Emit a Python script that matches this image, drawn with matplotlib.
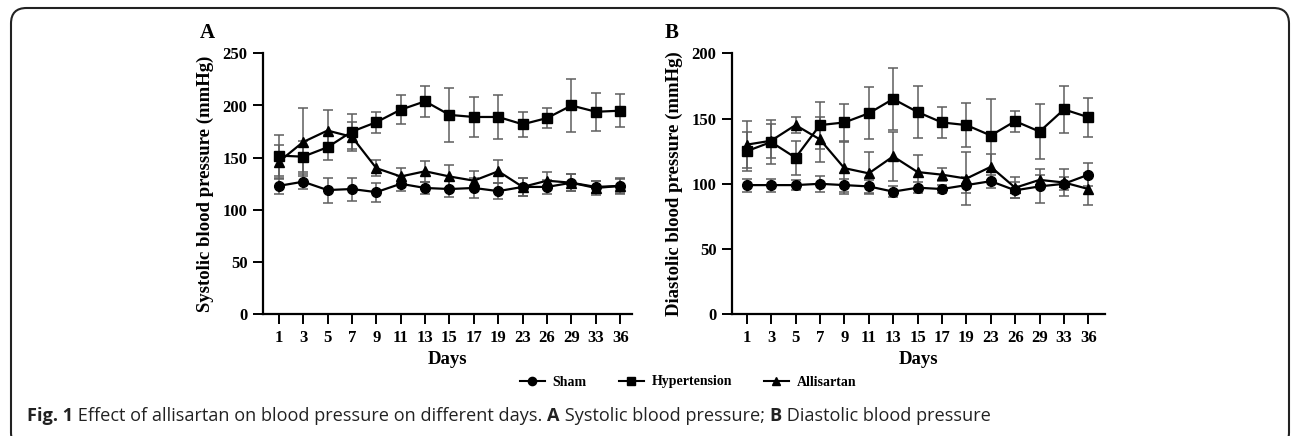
import matplotlib
matplotlib.use("Agg")
import matplotlib.pyplot as plt
from matplotlib.patches import FancyBboxPatch
from matplotlib.lines import Line2D
import numpy as np

days = ["1", "3", "5", "7", "9", "11", "13", "15", "17", "19", "23", "26", "29", "33", "36"]

# Panel A: systolic blood pressure (mmHg)
sbp_sham = [123, 127, 119, 120, 117, 125, 121, 120, 121, 118, 122, 122, 126, 122, 123]
sbp_sham_err = [8, 7, 12, 11, 9, 7, 6, 8, 10, 8, 9, 7, 8, 6, 7]
sbp_hyp = [152, 151, 160, 175, 184, 196, 204, 191, 189, 189, 182, 188, 200, 194, 195]
sbp_hyp_err = [20, 15, 12, 17, 10, 14, 15, 26, 19, 21, 12, 10, 25, 18, 16]
sbp_all = [146, 165, 176, 170, 140, 132, 137, 132, 128, 137, 122, 128, 126, 121, 123]
sbp_all_err = [16, 33, 20, 14, 8, 8, 10, 11, 9, 11, 9, 8, 8, 7, 8]

# Panel B: diastolic blood pressure (mmHg)
dbp_sham = [99, 99, 99, 100, 99, 98, 94, 97, 96, 99, 102, 95, 98, 100, 107]
dbp_sham_err = [5, 5, 4, 6, 5, 5, 4, 4, 3, 6, 5, 6, 13, 5, 9]
dbp_hyp = [125, 132, 120, 145, 147, 154, 165, 155, 147, 145, 137, 148, 140, 157, 151]
dbp_hyp_err = [15, 17, 13, 18, 14, 20, 24, 20, 12, 17, 28, 8, 21, 18, 15]
dbp_all = [130, 133, 145, 134, 112, 108, 121, 109, 107, 104, 113, 97, 103, 101, 96]
dbp_all_err = [18, 13, 6, 17, 20, 16, 19, 13, 5, 20, 10, 8, 4, 10, 12]

W, H = 1292, 436
fig = plt.figure(figsize=(W / 100, H / 100), dpi=100)

serif = "Liberation Serif"

def px_axes(x0, y0, x1, y1):
    return fig.add_axes([x0 / W, 1 - y1 / H, (x1 - x0) / W, (y1 - y0) / H])

series_style = [
    ("Sham", "o", 7.0),
    ("Hypertension", "s", 6.8),
    ("Allisartan", "^", 6.5),
]

def draw_panel(ax, data, ymax, ylabel, letter, xlim, letter_px):
    x = np.arange(len(days))
    for (name, mk, ms), (vals, errs) in zip(series_style, data):
        ax.errorbar(x, vals, yerr=errs, fmt="none", ecolor="#5e5e5e",
                    elinewidth=1.1, capsize=3.6, capthick=1.1, zorder=2)
        ax.plot(x, vals, color="black", lw=1.6, marker=mk, ms=ms,
                mfc="black", mec="black", zorder=3, label=name)
    ax.set_xlim(*xlim)
    ax.set_ylim(0, ymax)
    ax.set_yticks(np.arange(0, ymax + 1, 50))
    ax.set_xticks(x)
    ax.set_xticklabels(days)
    for s in ["top", "right"]:
        ax.spines[s].set_visible(False)
    for s in ["left", "bottom"]:
        ax.spines[s].set_linewidth(1.6)
    ax.tick_params(axis="both", width=1.4, length=7, direction="out", pad=4)
    for lab in ax.get_xticklabels() + ax.get_yticklabels():
        lab.set_fontfamily(serif)
        lab.set_fontweight("bold")
        lab.set_fontsize(12)
    ax.set_ylabel(ylabel, fontfamily=serif, fontweight="bold", fontsize=13.5, labelpad=6)
    ax.set_xlabel("Days", fontfamily=serif, fontweight="bold", fontsize=13.5, labelpad=4)
    fig.text(letter_px[0] / W, 1 - letter_px[1] / H, letter, fontfamily=serif,
             fontweight="bold", fontsize=15, ha="center", va="center")

axA = px_axes(262.7, 53.3, 632, 314.3)
draw_panel(axA, [(sbp_sham, sbp_sham_err), (sbp_hyp, sbp_hyp_err), (sbp_all, sbp_all_err)],
           250, "Systolic blood pressure (mmHg)", "A", (-0.656, 14.48), (207, 33))
axB = px_axes(731.7, 53.3, 1105, 314.3)
draw_panel(axB, [(dbp_sham, dbp_sham_err), (dbp_hyp, dbp_hyp_err), (dbp_all, dbp_all_err)],
           200, "Diastolic blood pressure (mmHg)", "B", (-0.615, 14.68), (672, 33))

handles = [Line2D([0], [0], color="black", lw=1.5, marker=mk, ms=ms * 0.85, mfc="black")
           for (_, mk, ms) in series_style]
labels = [n for (n, _, _) in series_style]
fig.legend(handles, labels, loc="center", bbox_to_anchor=(688 / W, 1 - 382 / H), ncol=3,
           frameon=False, handlelength=1.8, handletextpad=0.55, columnspacing=2.3,
           prop={"family": serif, "weight": "bold", "size": 10})

# frame
box = FancyBboxPatch((11 / W, -12 / H), (1289 - 11) / W, (H - 8 + 12) / H,
                     boxstyle="round,pad=0,rounding_size=0.012", transform=fig.transFigure,
                     fill=False, ec="#222222", lw=1.5, mutation_aspect=W / H)
fig.patches.append(box)

# caption
cap_parts = [("Fig. 1", "bold"), (" Effect of allisartan on blood pressure on different days. ", "normal"),
             ("A", "bold"), (" Systolic blood pressure; ", "normal"),
             ("B", "bold"), (" Diastolic blood pressure", "normal")]
fig.canvas.draw()
r = fig.canvas.get_renderer()
xpos = 27.0
for txt, wt in cap_parts:
    t = fig.text(xpos / W, 1 - 416 / H, txt, fontfamily="Open Sans", fontweight=wt,
                 fontsize=13.1, va="center", ha="left", color="#222222")
    bb = t.get_window_extent(renderer=r)
    xpos += bb.width

fig.savefig("out.png", dpi=100)
